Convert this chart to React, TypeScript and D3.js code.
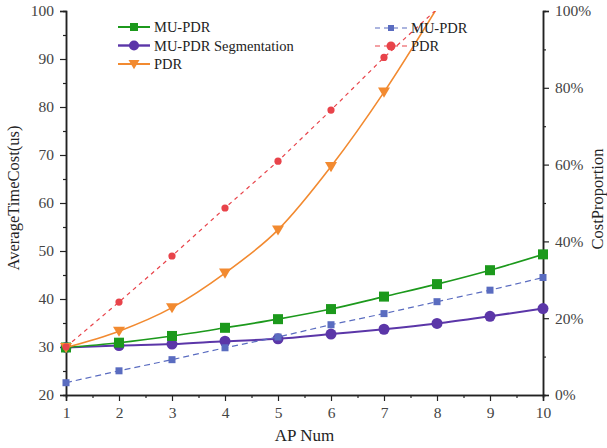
import React, { useEffect, useRef } from 'react';
import * as d3 from 'd3';

// x values (AP number)
const apNum = [1, 2, 3, 4, 5, 6, 7, 8, 9, 10];

// left axis: average time cost (us)
const muPdrTime = [29.9, 30.9, 32.3, 34.0, 35.8, 37.9, 40.5, 43.1, 46.0, 49.3];
const muPdrSegTime = [29.9, 30.3, 30.6, 31.2, 31.7, 32.7, 33.7, 34.9, 36.4, 38.0];
const pdrTime = [29.9, 33.3, 38.2, 45.4, 54.4, 67.6, 83.1, 100.6];

// right axis: cost proportion (%)
const muPdrProp = [3.2, 6.3, 9.2, 12.3, 15.1, 18.3, 21.2, 24.3, 27.3, 30.6];
const pdrProp = [12.5, 24.2, 36.2, 48.7, 60.9, 74.2, 87.9, 100.5];

const leftTicks = [20, 30, 40, 50, 60, 70, 80, 90, 100];
const rightTicks = [0, 20, 40, 60, 80, 100];

export default function App() {
  const ref = useRef<SVGSVGElement>(null);

  useEffect(() => {
    const W = 607, H = 448;
    const margin = { top: 11, right: 64, bottom: 53, left: 66 };
    const width = W - margin.left - margin.right;
    const height = H - margin.top - margin.bottom;

    const svg = d3.select(ref.current);
    svg.selectAll('*').remove();
    const font = "'Liberation Serif', 'Times New Roman', serif";

    const g = svg.append('g').attr('transform', `translate(${margin.left},${margin.top})`);

    const x = d3.scaleLinear().domain([1, 10]).range([0, width]);
    const yL = d3.scaleLinear().domain([20, 100]).range([height, 0]);
    const yR = d3.scaleLinear().domain([0, 100]).range([height, 0]);

    g.append('clipPath').attr('id', 'plotclip')
      .append('rect').attr('x', -6).attr('y', 0).attr('width', width + 12).attr('height', height + 6);

    // axes
    const styleAxis = (sel: any) => {
      sel.attr('font-family', null);
      sel.select('.domain').attr('stroke', '#222').attr('stroke-width', 1.5);
      sel.selectAll('.tick line').attr('stroke', '#222').attr('stroke-width', 1.2);
      sel.selectAll('text').style('font-family', font).style('font-size', '15.5px').attr('fill', '#444');
    };

    // minor ticks
    g.append('g').attr('transform', `translate(0,${height})`)
      .call(d3.axisBottom(x).tickValues(d3.range(1.5, 10, 1)).tickSize(3).tickFormat(() => ''))
      .call(styleAxis);
    g.append('g')
      .call(d3.axisLeft(yL).tickValues(d3.range(25, 100, 10)).tickSize(3).tickFormat(() => ''))
      .call(styleAxis);
    g.append('g').attr('transform', `translate(${width},0)`)
      .call(d3.axisRight(yR).tickValues(d3.range(10, 100, 20)).tickSize(3).tickFormat(() => ''))
      .call(styleAxis);

    g.append('g').attr('transform', `translate(0,${height})`)
      .call(d3.axisBottom(x).tickValues(apNum).tickSize(6).tickPadding(6).tickFormat(d3.format('d')))
      .call(styleAxis);
    g.append('g')
      .call(d3.axisLeft(yL).tickValues(leftTicks).tickSize(6).tickPadding(6))
      .call(styleAxis);
    g.append('g').attr('transform', `translate(${width},0)`)
      .call(d3.axisRight(yR).tickValues(rightTicks).tickSize(6).tickPadding(6).tickFormat(d => d + '%'))
      .call(styleAxis);

    // axis titles
    svg.append('text')
      .attr('x', margin.left + width / 2).attr('y', 441)
      .attr('text-anchor', 'middle').style('font-family', font).style('font-size', '17px').attr('fill', '#222')
      .text('AP Num');
    svg.append('text')
      .attr('transform', `translate(19,${margin.top + height / 2 - 5}) rotate(-90)`)
      .attr('text-anchor', 'middle').style('font-family', font).style('font-size', '16.5px').attr('fill', '#222')
      .text('AverageTimeCost(us)');
    svg.append('text')
      .attr('transform', `translate(603,${margin.top + height / 2 - 4}) rotate(-90)`)
      .attr('text-anchor', 'middle').style('font-family', font).style('font-size', '16.5px').attr('fill', '#222')
      .text('CostProportion');

    const plot = g.append('g').attr('clip-path', 'url(#plotclip)');

    const series = [
      { name: 'MU-PDR Segmentation', vals: muPdrSegTime, scale: yL, color: '#5b36a8', dash: null, w: 2, marker: 'circle', size: 5.5 },
      { name: 'MU-PDR', vals: muPdrTime, scale: yL, color: '#1c991c', dash: null, w: 1.6, marker: 'square', size: 10 },
      { name: 'PDR', vals: pdrTime, scale: yL, color: '#f28a30', dash: null, w: 1.6, marker: 'tri', size: 12 },
      { name: 'MU-PDR', vals: muPdrProp, scale: yR, color: '#5a6cc0', dash: '6,4', w: 1.2, marker: 'square', size: 7 },
      { name: 'PDR', vals: pdrProp, scale: yR, color: '#e8434a', dash: '4,4', w: 1.2, marker: 'circle', size: 3.6 },
    ];

    const drawMarker = (sel: any, s: any, cx: number, cy: number) => {
      if (s.marker === 'square') {
        sel.append('rect').attr('x', cx - s.size / 2).attr('y', cy - s.size / 2)
          .attr('width', s.size).attr('height', s.size).attr('fill', s.color);
      } else if (s.marker === 'circle') {
        sel.append('circle').attr('cx', cx).attr('cy', cy).attr('r', s.size).attr('fill', s.color);
      } else {
        const a = s.size / 2;
        sel.append('path')
          .attr('d', `M${cx - a},${cy - a * 0.75}L${cx + a},${cy - a * 0.75}L${cx},${cy + a * 0.95}Z`)
          .attr('fill', s.color);
      }
    };

    series.forEach(s => {
      const line = d3.line<number>()
        .x((d, i) => x(apNum[i]))
        .y(d => s.scale(d))
        .curve(s.dash ? d3.curveLinear : d3.curveMonotoneX);
      plot.append('path')
        .datum(s.vals)
        .attr('d', line)
        .attr('fill', 'none')
        .attr('stroke', s.color)
        .attr('stroke-width', s.w)
        .attr('stroke-dasharray', s.dash);
      s.vals.forEach((v, i) => {
        if (v <= s.scale.domain()[1]) drawMarker(plot, s, x(apNum[i]), s.scale(v));
      });
    });

    // legends
    const legLeft = [series[1], series[0], series[2]];
    legLeft.forEach((s, i) => {
      const ly = 27 + i * 18.5;
      svg.append('line').attr('x1', 118).attr('x2', 150).attr('y1', ly).attr('y2', ly)
        .attr('stroke', s.color).attr('stroke-width', s.w + 0.4);
      const ms = { ...s, size: s.marker === 'circle' ? 5 : s.marker === 'tri' ? 11 : 8 };
      drawMarker(svg, ms, 134, ly);
      svg.append('text').attr('x', 154).attr('y', ly + 5)
        .style('font-family', font).style('font-size', '14.5px').attr('fill', '#222').text(s.name);
    });
    const legRight = [series[3], series[4]];
    legRight.forEach((s, i) => {
      const ly = 28 + i * 18;
      svg.append('line').attr('x1', 375).attr('x2', 408).attr('y1', ly).attr('y2', ly)
        .attr('stroke', s.color).attr('stroke-width', 2).attr('stroke-opacity', 0.5)
        .attr('stroke-dasharray', '5,4');
      const ms = { ...s, size: s.marker === 'circle' ? 4.5 : 6 };
      drawMarker(svg, ms, 391, ly);
      svg.append('text').attr('x', 411).attr('y', ly + 5)
        .style('font-family', font).style('font-size', '14.5px').attr('fill', '#222').text(s.name);
    });
  }, []);

  return <svg ref={ref} width={607} height={448} style={{ position: 'absolute', left: 0, top: 0 }} />;
}
